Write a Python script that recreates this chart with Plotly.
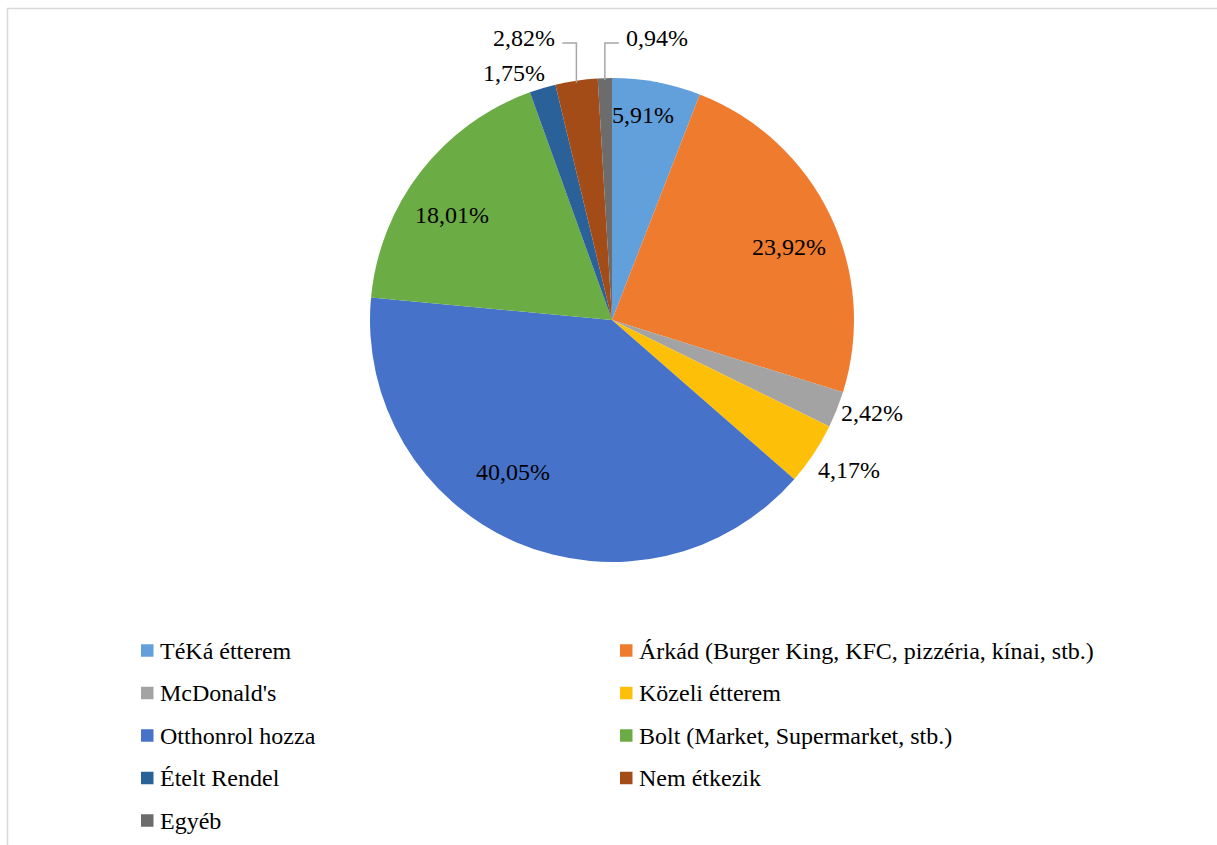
import math
import plotly.graph_objects as go

# Survey answers: where students get lunch (share of responses, %)
labels = [
    "TéKá étterem",
    "Árkád (Burger King, KFC, pizzéria, kínai, stb.)",
    "McDonald's",
    "Közeli étterem",
    "Otthonrol hozza",
    "Bolt (Market, Supermarket, stb.)",
    "Ételt Rendel",
    "Nem étkezik",
    "Egyéb",
]
values = [5.91, 23.92, 2.42, 4.17, 40.05, 18.01, 1.75, 2.82, 0.94]
colors = ["#62a0dc", "#ef7b2f", "#a3a3a3", "#fdbf08", "#4672c9",
          "#6cac45", "#2a6198", "#a44c18", "#6c6c6c"]

W, H = 1217, 845
CX, CY, R = 612, 320, 242  # pie centre and radius in pixels

# label placement: radius factor and small angular nudge (degrees); None -> leader line
label_r = [0.855, 0.79, 1.14, 1.16, 0.75, 0.79, 1.10, None, None]
label_dt = [-2, 3.3, -2, -1.4, 9.8, -4.4, -5, 0, 0]

FONT = "Liberation Serif"

fig = go.Figure(go.Pie(
    labels=labels,
    values=values,
    sort=False,
    direction="clockwise",
    rotation=0,
    marker=dict(colors=colors, line=dict(width=0)),
    textinfo="none",
    hoverinfo="label+percent",
    showlegend=False,
    domain=dict(x=[(CX - R) / W, (CX + R) / W],
                y=[1 - (CY + R) / H, 1 - (CY - R) / H]),
))


def px(x):
    return x / W


def py(y):
    return 1 - y / H


def fmt(v):
    return f"{v:.2f}".replace(".", ",") + "%"


annotations = []
shapes = []
total = sum(values)
cum = 0.0
for i, v in enumerate(values):
    mid = (cum + v / 2) / total * 360.0
    cum += v
    if label_r[i] is not None:
        th = math.radians(mid + label_dt[i])
        r = label_r[i] * R
        x = CX + r * math.sin(th)
        y = CY - r * math.cos(th)
        annotations.append(dict(x=px(x), y=py(y), xref="paper", yref="paper",
                                text=fmt(v), showarrow=False,
                                xanchor="center", yanchor="middle",
                                font=dict(family=FONT, size=24, color="#000")))
    else:
        th = math.radians(mid)
        ex = CX + R * math.sin(th)
        ey = CY - R * math.cos(th) + 2
        ly = 43
        side = -1 if ex < CX - 20 else 1
        hx = ex + side * 14
        shapes.append(dict(type="path", xref="paper", yref="paper",
                           path=f"M {px(ex)},{py(ey)} L {px(ex)},{py(ly)} L {px(hx)},{py(ly)}",
                           line=dict(color="#a6a6a6", width=1.5)))
        annotations.append(dict(x=px(hx + side * 5), y=py(ly - 5), xref="paper", yref="paper",
                                text=fmt(v), showarrow=False,
                                xanchor="right" if side < 0 else "left",
                                yanchor="middle",
                                font=dict(family=FONT, size=24, color="#000")))

# two-column legend below the pie
col_x = [141, 620]
row_y0, row_dy = 650.5, 42.5
sq = 12.5
for i, (lab, col) in enumerate(zip(labels, colors)):
    r, c = divmod(i, 2)
    y = row_y0 + r * row_dy
    x = col_x[c]
    shapes.append(dict(type="rect", xref="paper", yref="paper",
                       x0=px(x), x1=px(x + sq), y0=py(y - sq / 2), y1=py(y + sq / 2),
                       fillcolor=col, line=dict(width=0)))
    annotations.append(dict(x=px(x + sq + 4), y=py(y), xref="paper", yref="paper",
                            text=lab, showarrow=False, xanchor="left", yanchor="middle",
                            font=dict(family=FONT, size=24, color="#000")))

# chart frame
shapes.append(dict(type="rect", xref="paper", yref="paper",
                   x0=px(7.5), x1=px(W + 5), y0=py(H + 5), y1=py(8.5),
                   line=dict(color="#d9d9d9", width=1.5), fillcolor="rgba(0,0,0,0)"))

fig.update_layout(
    width=W, height=H,
    margin=dict(l=0, r=0, t=0, b=0),
    paper_bgcolor="white",
    plot_bgcolor="white",
    annotations=annotations,
    shapes=shapes,
)

fig.write_html("out.html")
